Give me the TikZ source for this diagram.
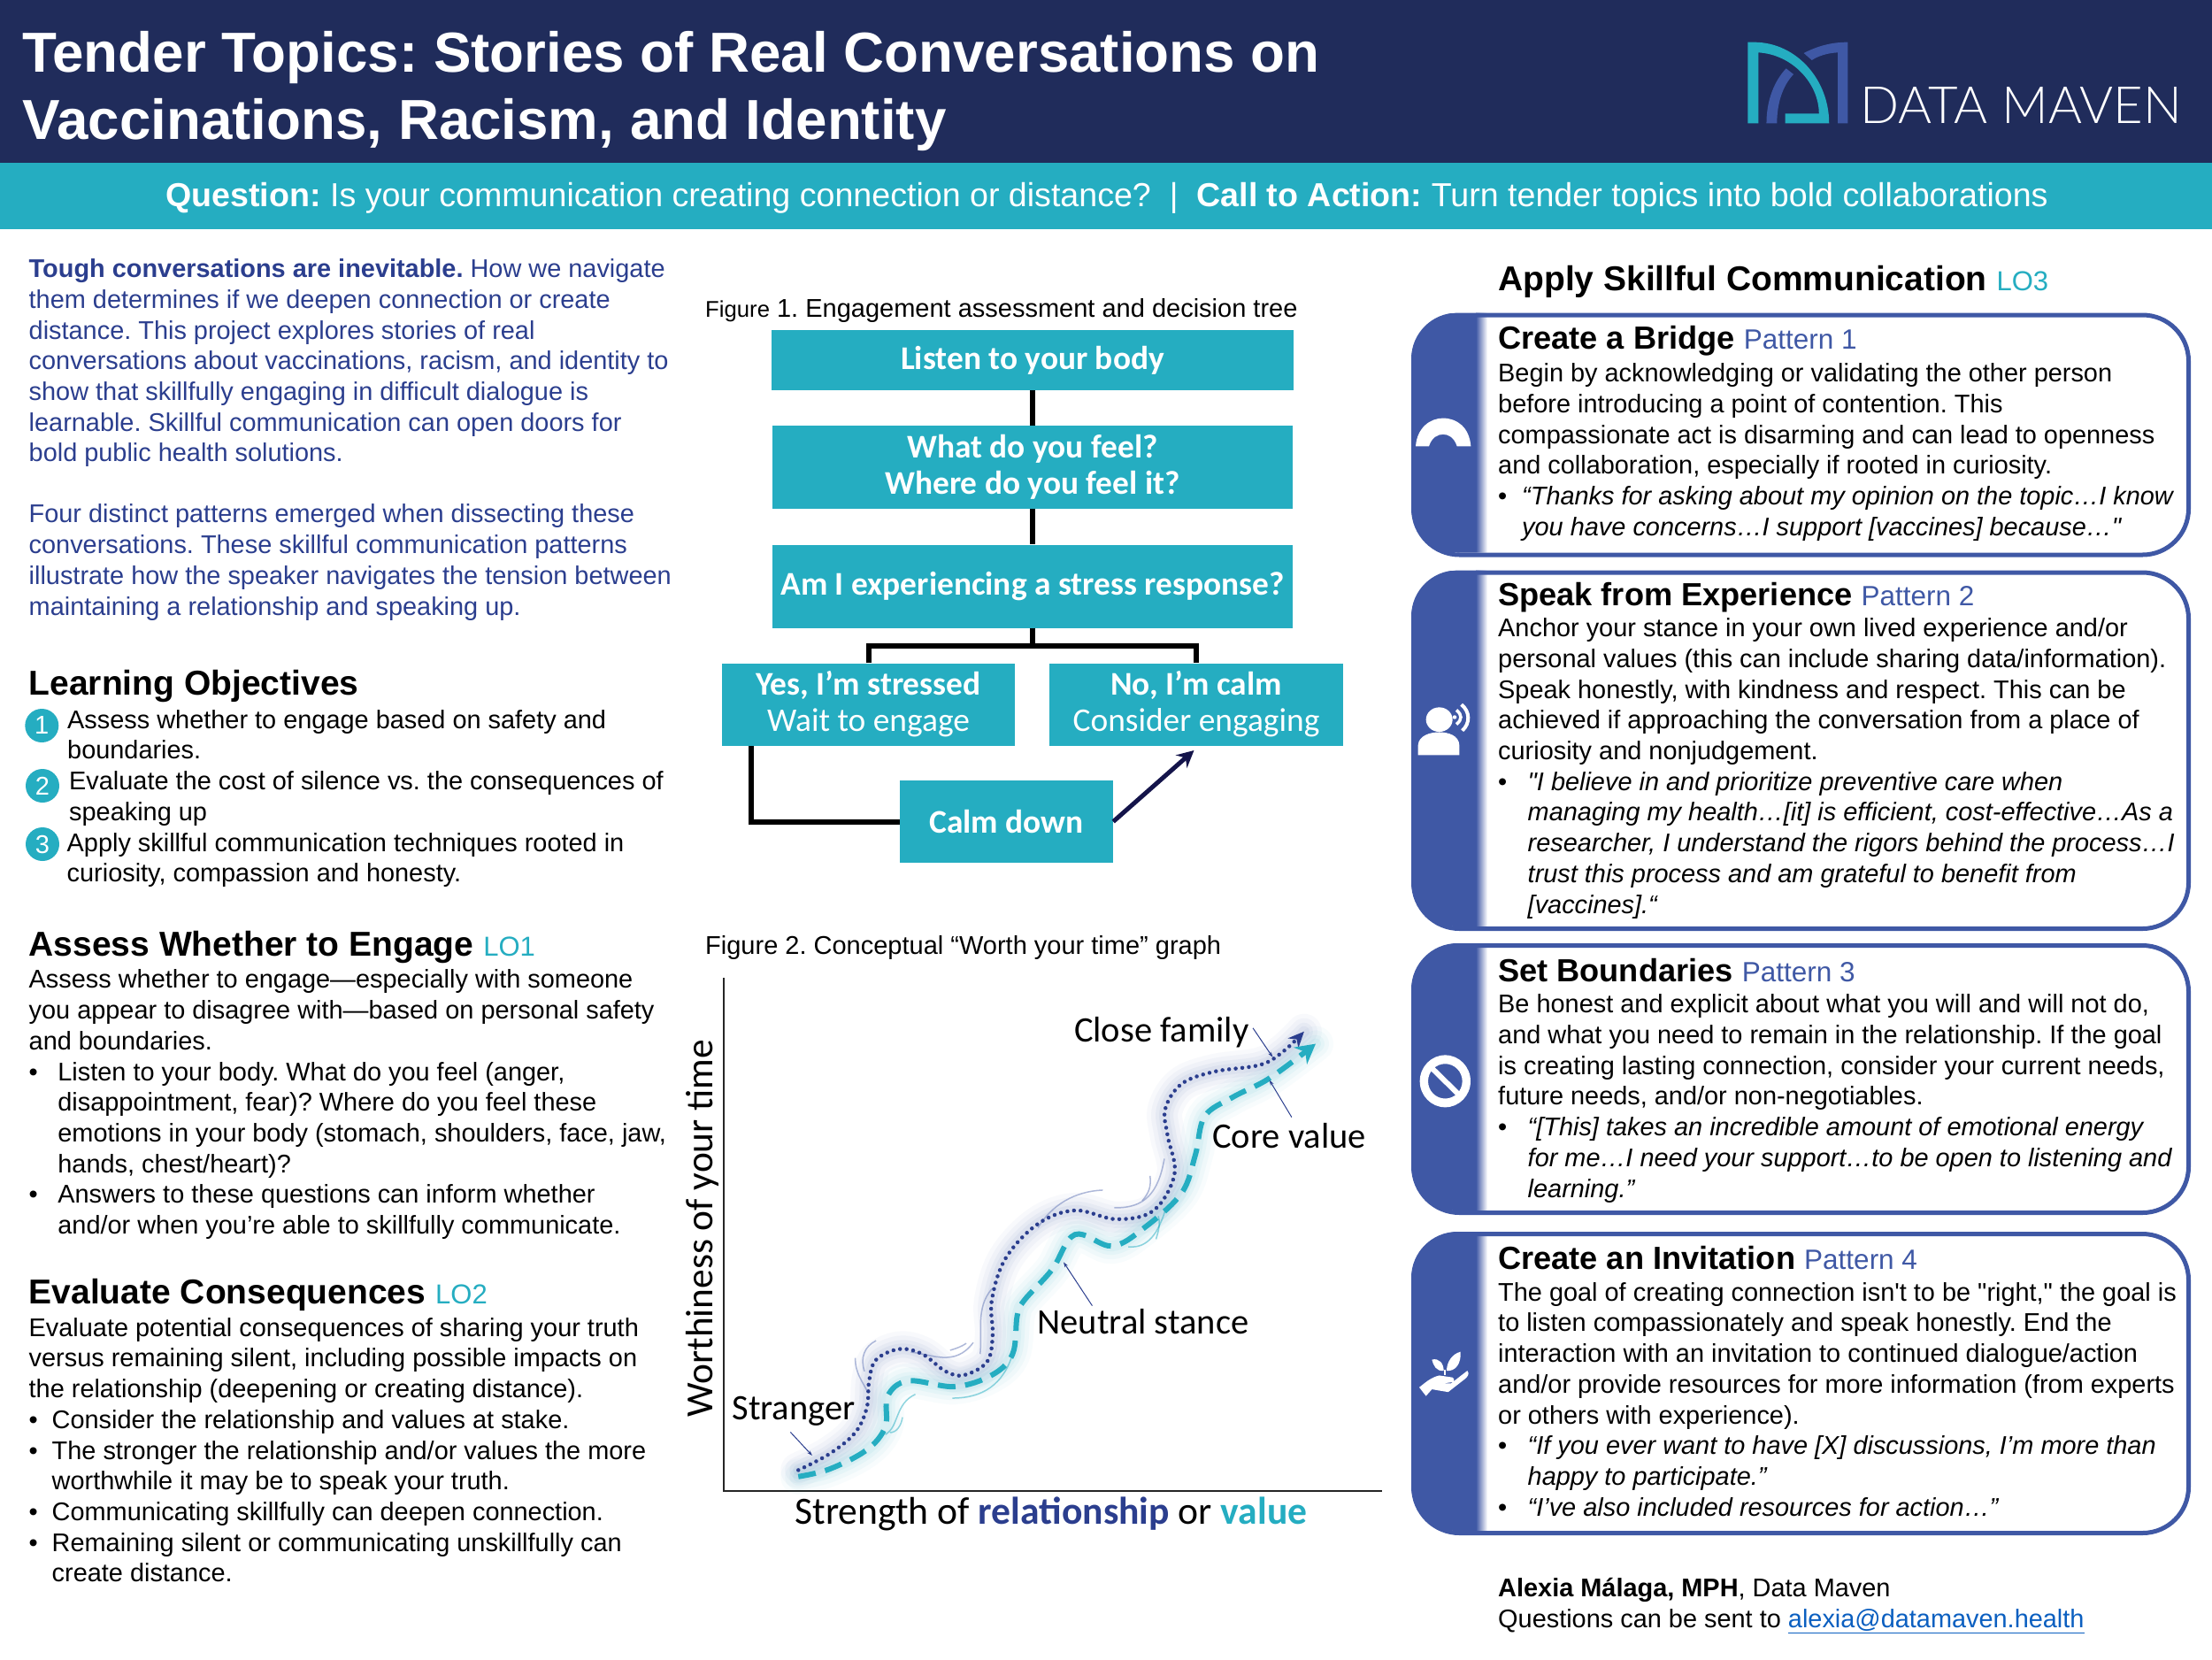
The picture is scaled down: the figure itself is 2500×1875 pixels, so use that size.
\documentclass[tikz,border=0pt]{standalone}
\usepackage{fontspec}
\setmainfont{Liberation Sans}
\newfontfamily\plainar{Liberation Sans}
\newfontfamily\carl{Carlito}
\newfontfamily\lightf{Lato Light}
\usetikzlibrary{arrows.meta}
\definecolor{navy}{HTML}{202C5B}
\definecolor{teal2}{HTML}{25ADC1}
\definecolor{cblue}{HTML}{3F58A5}
\definecolor{para}{HTML}{2B3E8E}
\definecolor{darkarrow}{HTML}{14144A}
\definecolor{linkb}{HTML}{0B5FC0}
\newcommand{\blk}[7]{\node[anchor=north west,inner sep=0pt,align=left,font={\fontsize{#4}{#5}\selectfont #6}] (#1) at (#2,{#3-#4}) {\rule{0pt}{#4pt}#7};}
\newcommand{\body}[4]{\blk{#1}{#2}{#3}{28.9}{34.7}{}{#4}}
\newcommand{\pat}[1]{{\color{cblue}\mdseries\fontsize{31.5}{36}\selectfont #1}}
\newcommand{\lo}[1]{{\color{teal2}\mdseries\fontsize{31}{36}\selectfont #1}}
\newcommand{\bl}[1]{\makebox[#1pt][l]{•}}
\newcommand{\ind}[1]{\hspace*{#1pt}}
\newcommand{\strq}{{\plainar"}}
\newcommand{\stra}{{\plainar'}}
\newcommand{\dotcurve}{(272,1343)(340,1300)(395,1245)(420,1180)(425,1110)(440,1055)(490,1027)(540,1040)(590,1085)(630,1095)(680,1060)(692,990)(690,900)(720,790)(790,700)(870,665)(960,688)(1040,665)(1085,570)(1070,470)(1065,400)(1100,335)(1170,303)(1270,285)(1320,250)(1365,198)}
\newcommand{\dashcurve}{(272,1360)(340,1340)(420,1290)(460,1230)(465,1150)(510,1110)(610,1125)(690,1095)(735,1040)(745,940)(760,900)(820,820)(870,728)(950,758)(1020,710)(1100,620)(1130,520)(1150,420)(1210,370)(1290,320)(1390,230)}
\newcommand{\card}[3]{%
  \begin{scope}
    \clip[rounded corners=52pt] (1595,#2) rectangle (2471,#3);
    \fill[cblue] (1595,#2) rectangle (1668,#3);
    \shade[left color=cblue,right color=white] (1668,#2) rectangle (1681,#3);
  \end{scope}
  \node[draw=cblue,line width=5pt,rounded corners=52pt,inner sep=0pt,minimum width=876pt,minimum height={#3-#2},anchor=north west] (#1) at (1595,#2) {};
}
\tikzset{
  flowbox/.style={fill=teal2,text=white,inner sep=0pt,align=center,font={\carl\fontsize{37.4}{41}\selectfont}},
  conn/.style={line width=6pt,black},
  numdot/.style={circle,fill=teal2,text=white,inner sep=0pt,minimum size=38pt,font={\fontsize{29}{30}\selectfont}},
  glabel/.style={font={\carl\fontsize{40.5}{44}\selectfont},inner sep=0pt},
  note/.style={draw=para,line width=1pt,-{Stealth[length=6pt,width=4pt]}},
  wispn/.style={draw=cblue!70,line width=1.5pt,opacity=.6},
  wispt/.style={draw=teal2,line width=1.5pt,opacity=.5},
}
\begin{document}
\frenchspacing
\begin{tikzpicture}[x=1pt,y=-1pt]
\useasboundingbox (0,0) rectangle (2500,1875);
\fill[white] (0,0) rectangle (2500,1875);
% header
\fill[navy] (0,0) rectangle (2500,184);
\fill[teal2] (0,184) rectangle (2500,259);
\blk{title}{25}{81}{63.7}{76.7}{\color{white}\bfseries}{Tender Topics: Stories of Real Conversations on\\Vaccinations, Racism, and Identity}
\blk{strip}{187}{233}{37.6}{40}{\color{white}}{\textbf{Question:} Is your communication creating connection or distance?~~|~~\textbf{Call to Action:} Turn tender topics into bold collaborations}
% logo
\begin{scope}[shift={(1900,0)},xscale=0.3827,yscale=0.3333]
\fill[teal2] (197,143) -- (215,143) .. controls (340,143) and (437,270) .. (437,418) -- (307,418) -- (307,385) -- (407,385) .. controls (407,285) and (330,185) .. (228,178) -- (228,418) -- (197,418) -- cycle;
\fill[cblue] (362,180) .. controls (400,158) and (440,143) .. (492,143) -- (492,418) -- (463,418) -- (463,178) .. controls (430,180) and (405,190) .. (386,204) -- cycle;
\fill[cblue] (310,232) -- (332,252) .. controls (300,290) and (283,350) .. (283,418) -- (252,418) .. controls (252,340) and (275,275) .. (310,232) -- cycle;
\end{scope}
\node[anchor=base west,inner sep=0pt,text=white,font={\lightf\fontsize{58}{60}\selectfont}] (logotext) at (2102,139) {DATA MAVEN};
% left column
\blk{intro1}{32.5}{313.4}{28.9}{34.7}{\color{para}}{\textbf{Tough conversations are inevitable.} How we navigate\\them determines if we deepen connection or create\\distance. This project explores stories of real\\conversations about vaccinations, racism, and identity to\\show that skillfully engaging in difficult dialogue is\\learnable. Skillful communication can open doors for\\bold public health solutions.}
\blk{intro2}{32.5}{590.7}{28.9}{34.7}{\color{para}}{Four distinct patterns emerged when dissecting these\\conversations. These skillful communication patterns\\illustrate how the speaker navigates the tension between\\maintaining a relationship and speaking up.}
\blk{loh}{32.5}{785}{39}{40}{\bfseries}{Learning Objectives}
\node[numdot] (n1) at (47.3,820) {1};
\node[numdot] (n2) at (48,888) {2};
\node[numdot] (n3) at (48,954) {3};
\body{lo1}{76}{823}{Assess whether to engage based on safety and\\boundaries.}
\body{lo2}{78}{892.6}{Evaluate the cost of silence vs. the consequences of\\speaking up}
\body{lo3}{75.5}{962}{Apply skillful communication techniques rooted in\\curiosity, compassion and honesty.}
\blk{ash}{32.5}{1080}{39}{40}{\bfseries}{Assess Whether to Engage \lo{LO1}}
\body{ast}{32.5}{1116.7}{Assess whether to engage—especially with someone\\you appear to disagree with—based on personal safety\\and boundaries.\\\bl{32.7}Listen to your body. What do you feel (anger,\\\ind{32.7}disappointment, fear)? Where do you feel these\\\ind{32.7}emotions in your body (stomach, shoulders, face, jaw,\\\ind{32.7}hands, chest/heart)?\\\bl{32.7}Answers to these questions can inform whether\\\ind{32.7}and/or when you’re able to skillfully communicate.}
\blk{evh}{32.5}{1473}{39}{40}{\bfseries}{Evaluate Consequences \lo{LO2}}
\body{evt}{32.5}{1510}{Evaluate potential consequences of sharing your truth\\versus remaining silent, including possible impacts on\\the relationship (deepening or creating distance).\\\bl{26}Consider the relationship and values at stake.\\\bl{26}The stronger the relationship and/or values the more\\\ind{26}worthwhile it may be to speak your truth.\\\bl{26}Communicating skillfully can deepen connection.\\\bl{26}Remaining silent or communicating unskillfully can\\\ind{26}create distance.}
% figure 1
\blk{fig1}{797}{358}{29}{30}{}{{\fontsize{25.7}{30}\selectfont Figure} 1. Engagement assessment and decision tree}
\node[flowbox,minimum width=590pt,minimum height=68pt] (b1) at (1167,407) {\bfseries Listen to your body};
\node[flowbox,minimum width=587.5pt,minimum height=94pt] (b2) at (1167,528) {\bfseries What do you feel?\\\bfseries Where do you feel it?};
\node[flowbox,minimum width=588.5pt,minimum height=94pt] (b3) at (1167,662.5) {\bfseries Am I experiencing a stress response?};
\node[flowbox,minimum width=331pt,minimum height=93pt] (yes) at (981.5,796) {\bfseries Yes, I’m stressed\\Wait to engage};
\node[flowbox,minimum width=332pt,minimum height=93pt] (no) at (1352,796) {\bfseries No, I’m calm\\Consider engaging};
\node[flowbox,minimum width=241pt,minimum height=93pt] (calm) at (1137.5,928.5) {\bfseries Calm down};
\coordinate (junction) at (1167,730);
\coordinate (yesfoot) at (849,843);
\coordinate (noarrow) at (1349.5,848);
\draw[conn] (b1.south) -- (b2.north);
\draw[conn] (b2.south) -- (b3.north);
\draw[conn] (b3.south) -- (junction);
\draw[conn] (yes.north) |- (junction) -| (no.north);
\draw[conn] (yesfoot) |- (calm.west);
\draw[line width=5pt,darkarrow,-{Stealth[length=19pt,width=19pt]}] (calm.east) -- (noarrow);
% figure 2
\blk{fig2}{797}{1078}{29}{30}{}{Figure 2. Conceptual “Worth your time” graph}
\coordinate (axtop) at (818,1105);
\coordinate (axor) at (818,1685);
\coordinate (axr) at (1562,1685);
\draw[line width=2pt,black!85] (axtop) -- (axor) -- (axr);
\node[rotate=90,inner sep=0pt,font={\carl\fontsize{43.4}{46}\selectfont}] (ylab) at (794,1388) {Worthiness of your time};
\node[inner sep=0pt,font={\carl\fontsize{43.6}{46}\selectfont}] (xlab) at (1188,1711) {Strength of \textcolor{para}{\bfseries relationship} or \textcolor{teal2}{\bfseries value}};
\begin{scope}[shift={(760,1080)},xscale=0.523,yscale=0.4329]
  \foreach \w/\o in {40/.03,30/.04,20/.05,12/.06}{
    \draw[cblue,line width=\w pt,opacity=\o,line cap=round] plot[smooth,tension=.6] coordinates {\dotcurve};
    \draw[teal2,line width=\w pt,opacity=\o,line cap=round] plot[smooth,tension=.6] coordinates {\dashcurve};
  }
  % wisps
  \draw[wispn] (395,1050) .. controls (395,1090) and (410,1110) .. (420,1135);
  \draw[wispn] (440,1005) .. controls (415,1020) and (405,1050) .. (415,1085);
  \draw[wispn] (515,1035) .. controls (560,1040) and (610,1075) .. (650,1010);
  \draw[wispn] (600,1030) .. controls (615,1025) and (625,1020) .. (635,1012);
  \draw[wispn] (690,870) .. controls (655,920) and (670,980) .. (665,1040);
  \draw[wispn] (790,710) .. controls (820,650) and (870,615) .. (930,612);
  \draw[wispn] (955,658) .. controls (1020,660) and (1050,620) .. (1063,530);
  \draw[wispn] (1032,575) .. controls (1035,600) and (1030,620) .. (1015,640);
  \draw[wispt] (460,1250) .. controls (490,1230) and (480,1170) .. (525,1145);
  \draw[wispt] (470,1245) .. controls (485,1245) and (495,1225) .. (497,1205);
  \draw[wispt] (605,1155) .. controls (670,1155) and (715,1120) .. (735,1040);
  \draw[wispt] (985,760) .. controls (1030,765) and (1050,720) .. (1065,665);
  \draw[wispt] (1045,740) .. controls (1050,720) and (1055,700) .. (1050,680);
  % curves
  \draw[para,line width=4.5pt,line cap=round,dash pattern=on 0pt off 7.5pt,-{Stealth[length=18pt,width=16pt]}] plot[smooth,tension=.6] coordinates {\dotcurve};
  \draw[teal2,line width=6pt,dash pattern=on 20pt off 11pt,-{Stealth[length=22pt,width=24pt]}] plot[smooth,tension=.6] coordinates {\dashcurve};
  % labels
  \node[glabel] (lclose) at (1057,201) {Close family};
  \node[glabel] (lcore) at (1333,470) {Core value};
  \node[glabel] (lneut) at (1017,955) {Neutral stance};
  \node[glabel] (lstr) at (262,1190) {Stranger};
  \coordinate (pclose) at (1297,265);
  \coordinate (pcore) at (1290,325);
  \coordinate (pneut) at (845,800);
  \coordinate (pstr) at (302,1305);
  \draw[note] (lclose.east) ++(8,-12) -- (pclose);
  \draw[note] (lcore.north) ++(5,-15) -- (pcore);
  \draw[note] (lneut.north) ++(-110,-8) -- (pneut);
  \draw[note] (lstr.south) ++(-7,15) -- (pstr);
\end{scope}
% right column
\blk{aph}{1693}{328}{39}{40}{\bfseries}{Apply Skillful Communication \lo{LO3}}
\card{c1}{353.5}{624.5}
\card{c2}{644.5}{1047}
\card{c3}{1066}{1368}
\card{c4}{1392}{1730}
\blk{c1t}{1693}{394.5}{36.2}{38}{\bfseries}{Create a Bridge \pat{Pattern 1}}
\body{c1b}{1693}{431.5}{Begin by acknowledging or validating the other person\\before introducing a point of contention. This\\compassionate act is disarming and can lead to openness\\and collaboration, especially if rooted in curiosity.\\\bl{27}\textit{“Thanks for asking about my opinion on the topic…I know}\\\ind{27}\textit{you have concerns…I support [vaccines] because…\strq}}
\blk{c2t}{1693}{684}{36.2}{38}{\bfseries}{Speak from Experience \pat{Pattern 2}}
\body{c2b}{1693}{719.5}{Anchor your stance in your own lived experience and/or\\personal values (this can include sharing data/information).\\Speak honestly, with kindness and respect. This can be\\achieved if approaching the conversation from a place of\\curiosity and nonjudgement.\\\bl{33.5}\textit{\strq I believe in and prioritize preventive care when}\\\ind{33.5}\textit{managing my health…[it] is efficient, cost-effective…As a}\\\ind{33.5}\textit{researcher, I understand the rigors behind the process…I}\\\ind{33.5}\textit{trust this process and am grateful to benefit from}\\\ind{33.5}\textit{[vaccines].“}}
\blk{c3t}{1693}{1109.5}{36.2}{38}{\bfseries}{Set Boundaries \pat{Pattern 3}}
\body{c3b}{1693}{1144.6}{Be honest and explicit about what you will and will not do,\\and what you need to remain in the relationship. If the goal\\is creating lasting connection, consider your current needs,\\future needs, and/or non-negotiables.\\\bl{33.5}\textit{“[This] takes an incredible amount of emotional energy}\\\ind{33.5}\textit{for me…I need your support…to be open to listening and}\\\ind{33.5}\textit{learning.”}}
\blk{c4t}{1693}{1434}{36.2}{38}{\bfseries}{Create an Invitation \pat{Pattern 4}}
\body{c4b}{1693}{1470}{The goal of creating connection isn\stra t to be \strq right,\strq{} the goal is\\to listen compassionately and speak honestly. End the\\interaction with an invitation to continued dialogue/action\\and/or provide resources for more information (from experts\\or others with experience).\\\bl{33.5}\textit{“If you ever want to have [X] discussions, I’m more than}\\\ind{33.5}\textit{happy to participate.”}\\\bl{33.5}\textit{“I’ve also included resources for action…”}}
% icons
\begin{scope}[shift={(1580,340)},xscale=0.3333,yscale=0.4464]
\fill[white] (60,368) .. controls (65,320) and (110,297) .. (153,297) .. controls (200,297) and (242,320) .. (247,368) -- (200,368) .. controls (190,345) and (170,338) .. (153,338) .. controls (135,338) and (115,345) .. (105,368) -- cycle;
\fill[white] (140,1060) ellipse [x radius=45,y radius=31];
\fill[white] (68,1150) -- (68,1125) .. controls (70,1100) and (110,1092) .. (140,1092) .. controls (170,1092) and (207,1100) .. (208,1125) -- (208,1150) -- cycle;
\draw[white,line width=4pt] (215,1022) .. controls (245,1040) and (245,1070) .. (218,1088);
\draw[white,line width=3.5pt] (198,1036) .. controls (218,1048) and (218,1060) .. (198,1072);
\fill[white] (192,1054) ellipse [x radius=7,y radius=5];
\end{scope}
\begin{scope}[shift={(1580,1050)},xscale=0.3333,yscale=0.4464]
\fill[white,even odd rule] (160,385) ellipse [x radius=86,y radius=66] (160,385) ellipse [x radius=58,y radius=44];
\draw[white,line width=6pt] (115,352) -- (205,418);
\fill[white] (72,1160) .. controls (90,1150) and (110,1135) .. (140,1130) -- (185,1135) .. controls (195,1140) and (190,1148) .. (175,1148) -- (150,1150) -- (180,1150) -- (235,1118) .. controls (245,1125) and (235,1135) .. (225,1140) -- (170,1172) -- (115,1165) -- (95,1182) -- cycle;
\fill[white] (115,1090) .. controls (140,1085) and (155,1100) .. (155,1118) .. controls (130,1120) and (120,1105) .. (115,1090) -- cycle;
\fill[white] (212,1070) .. controls (215,1100) and (195,1120) .. (165,1118) .. controls (165,1095) and (185,1075) .. (212,1070) -- cycle;
\draw[white,line width=2pt] (160,1115) -- (160,1130);
\end{scope}
% footer
\blk{foot}{1693}{1804.5}{28.9}{34.7}{}{\textbf{Alexia Málaga, MPH}, Data Maven\\Questions can be sent to \textcolor{linkb}{\underline{alexia@datamaven.health}}}
\end{tikzpicture}
\end{document}
